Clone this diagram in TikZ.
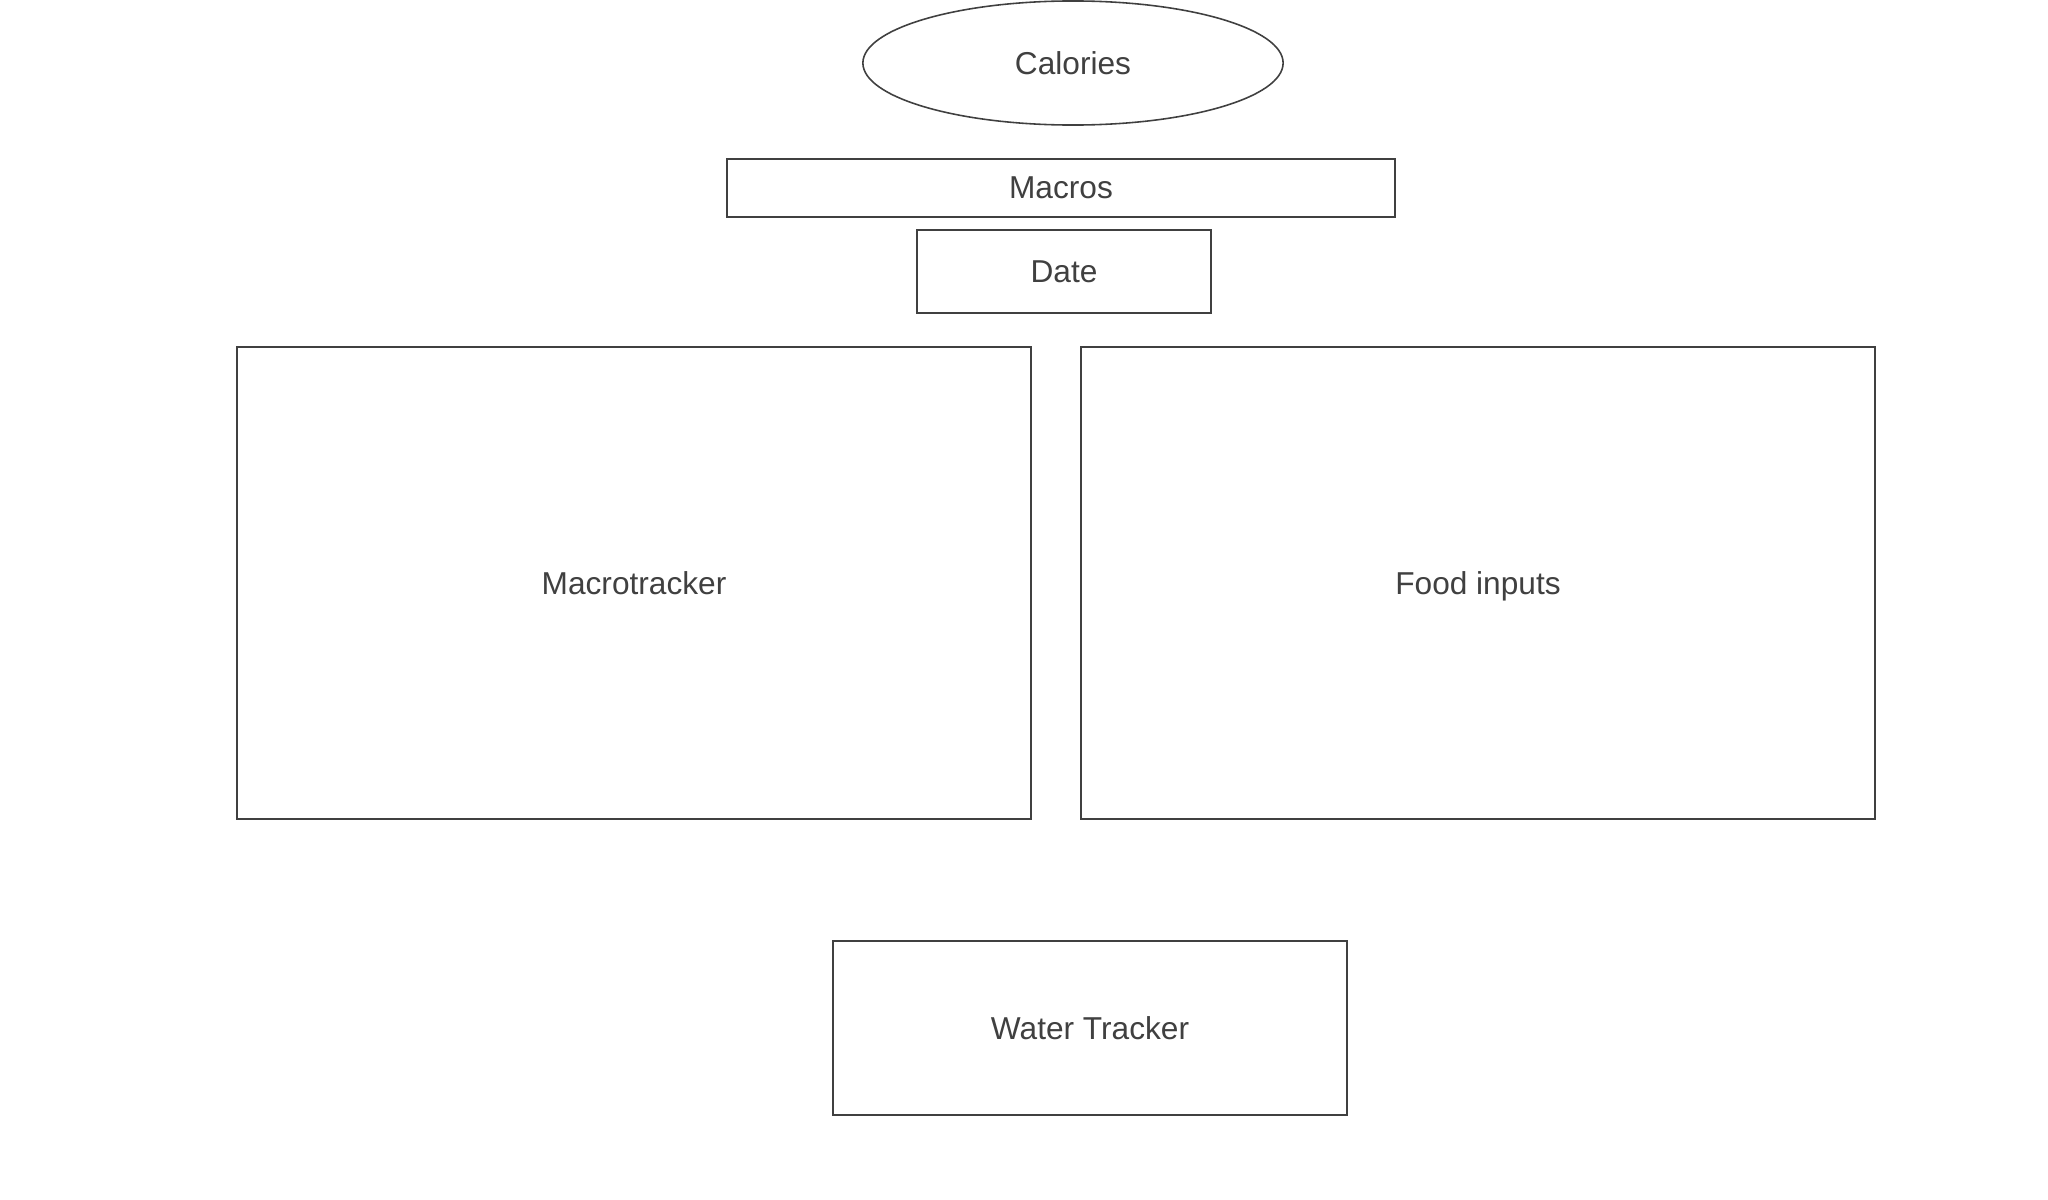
\documentclass[tikz,border=0pt]{standalone}
\usepackage{fontspec}
\setmainfont{Liberation Sans}
\usetikzlibrary{shapes.geometric}
\definecolor{strichgrau}{HTML}{404040}
\begin{document}
\begin{tikzpicture}[x=0.01cm,y=-0.01cm,
		feld/.style={draw=strichgrau,line width=0.6pt,text=strichgrau,inner sep=0pt,text depth=0pt,font=\fontsize{9}{11}\selectfont},
		kasten/.style={feld,rectangle}]
		\useasboundingbox (0,0) rectangle (2048,1200);
		% Ellipse oben
		\node[feld,ellipse,line width=0.45pt,minimum width=4.2cm,minimum height=1.24cm] (calories) at (1073,63) {Calories};
		% Kaesten (Name/x/y/Breite/Hoehe/Text)
		\foreach \n/\x/\y/\w/\h/\t in {macros/1061/188/6.68/0.58/Macros,date/1064/271.5/2.94/0.83/Date,macrotracker/634/583/7.94/4.72/Macrotracker,foodinputs/1478/583/7.94/4.72/Food inputs,watertracker/1090/1028/5.14/1.74/Water Tracker}
		\node[kasten,minimum width=\w cm,minimum height=\h cm] (\n) at (\x,\y) {\t};
	\end{tikzpicture}
\end{document}
